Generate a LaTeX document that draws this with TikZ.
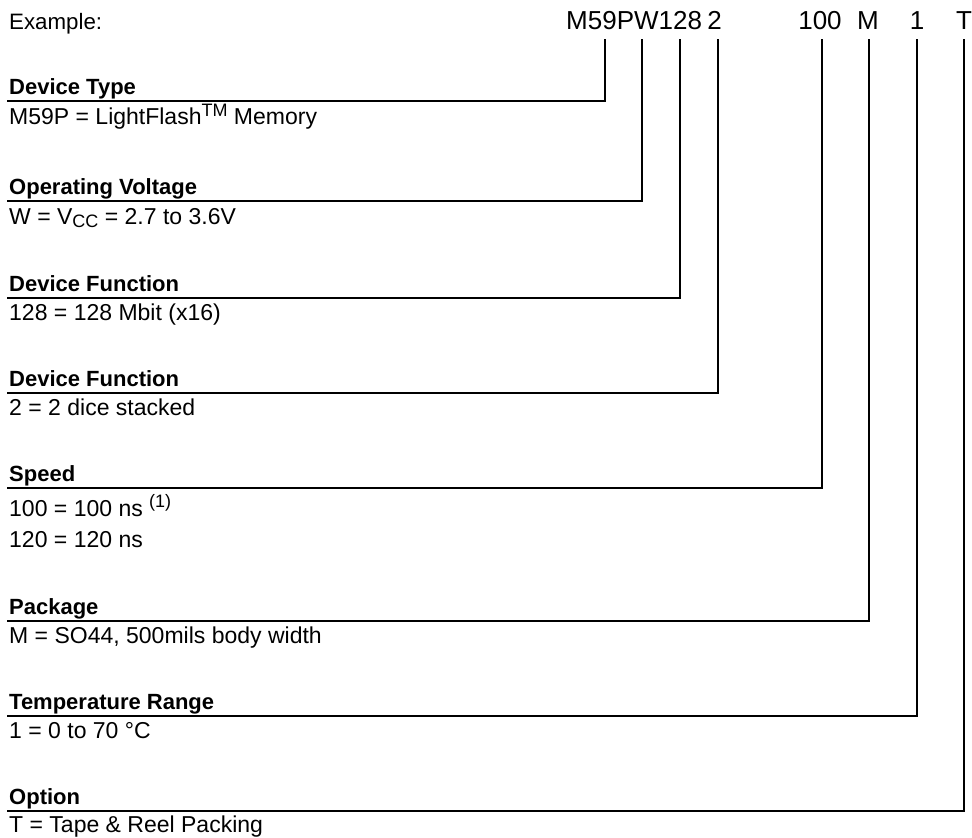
\documentclass[tikz,border=0pt]{standalone}
\usepackage{fontspec}
\setmainfont{Liberation Sans}
\newcommand{\supfont}{\fontsize{18}{20}\selectfont}
\begin{document}
\begin{tikzpicture}[x=1pt,y=-1pt,
  txt/.style={inner sep=0pt,anchor=base west,font=\fontsize{23}{31.5}\selectfont},
  ttl/.style={txt,font=\fontsize{22}{31.5}\selectfont\bfseries},
  code/.style={inner sep=0pt,anchor=base,font=\fontsize{26}{30}\selectfont},
  lead/.style={line width=1.6pt,line cap=rect}]
\useasboundingbox (0,0) rectangle (972,838);
% example code
\node[txt,font=\fontsize{22.3}{30}\selectfont] (ex) at (9,29) {Example:};
\node[code,anchor=base west] (cM) at (566,29) {M59PW128};
\node[code,anchor=base east] (c2) at (722,29) {2};
\node[code] (c100) at (820,29) {100};
\node[code] (cPk) at (868,29) {M};
\node[code] (cT1) at (917,29) {1};
\node[code] (cOp) at (964,29) {T};
% tops of the leader lines
\coordinate (t1) at (605,40);
\coordinate (t2) at (642,40);
\coordinate (t3) at (680,40);
\coordinate (t4) at (718,40);
\coordinate (t5) at (822,40);
\coordinate (t6) at (869,40);
\coordinate (t7) at (917,40);
\coordinate (t8) at (964,40);
% left ends
\coordinate (h1) at (8,101);
\coordinate (h2) at (8,201);
\coordinate (h3) at (8,298);
\coordinate (h4) at (8,393);
\coordinate (h5) at (8,488);
\coordinate (h6) at (8,621);
\coordinate (h7) at (8,716);
\coordinate (h8) at (8,811);
\draw[lead] (t1) |- (h1);
\draw[lead] (t2) |- (h2);
\draw[lead] (t3) |- (h3);
\draw[lead] (t4) |- (h4);
\draw[lead] (t5) |- (h5);
\draw[lead] (t6) |- (h6);
\draw[lead] (t7) |- (h7);
\draw[lead] (t8) |- (h8);
% titles and descriptions
\node[ttl] (n1) at (9,94) {Device Type};
\node[txt] (d1) at (9,124) {M59P = LightFlash\raisebox{0.6ex}{\supfont TM} Memory};
\node[ttl] (n2) at (9,194) {Operating Voltage};
\node[txt] (d2) at (9,224) {W = V\raisebox{-0.25ex}{\supfont CC} = 2.7 to 3.6V};
\node[ttl] (n3) at (9,291) {Device Function};
\node[txt] (d3) at (9,320) {128 = 128 Mbit (x16)};
\node[ttl] (n4) at (9,386) {Device Function};
\node[txt] (d4) at (9,415) {2 = 2 dice stacked};
\node[ttl] (n5) at (9,481) {Speed};
\node[txt] (d5) at (9,516) {100 = 100 ns \raisebox{0.7ex}{\supfont(1)}};
\node[txt] (d5b) at (9,547) {120 = 120 ns};
\node[ttl] (n6) at (9,614) {Package};
\node[txt] (d6) at (9,643) {M = SO44, 500mils body width};
\node[ttl] (n7) at (9,709) {Temperature Range};
\node[txt] (d7) at (9,738) {1 = 0 to 70 °C};
\node[ttl] (n8) at (9,804) {Option};
\node[txt] (d8) at (9,832) {T = Tape \& Reel Packing};
\end{tikzpicture}
\end{document}
